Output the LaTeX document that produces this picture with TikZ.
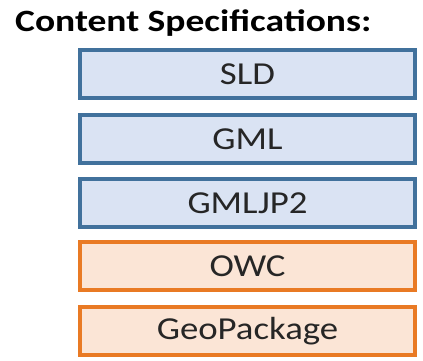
\documentclass[tikz,border=0pt]{standalone}
\usepackage{fontspec}
\setmainfont{Carlito}[FakeStretch=1.15]
\newfontfamily\titlefont{Carlito}[FakeStretch=1.21]
\usepackage{xcolor}
\definecolor{specblue}{HTML}{DAE3F3}
\definecolor{specblueline}{HTML}{41719C}
\definecolor{specorange}{HTML}{FBE5D6}
\definecolor{specorangeline}{HTML}{E97A24}
\tikzset{
  specbox/.style={draw, line width=3.5pt, minimum width=335pt, minimum height=48pt,
    inner sep=0pt, text=black!85, font=\fontsize{32}{38}\selectfont},
  bluebox/.style={specbox, draw=specblueline, fill=specblue},
  orangebox/.style={specbox, draw=specorangeline, fill=specorange}
}
\begin{document}
\begin{tikzpicture}[x=1pt,y=-1pt]
        % Fix the page size
        \useasboundingbox (0,0) rectangle (423,361);

        % Title
        \node[anchor=base west, inner sep=0pt, font=\titlefont\bfseries\fontsize{31}{37}\selectfont] (title) at (15,32) {Content Specifications:};

        % Blue specification boxes
        \node[bluebox] (sld) at (247.5,74) {SLD};
        \node[bluebox] (gml) at (247.5,139) {GML};
        \node[bluebox] (gmljp2) at (247.5,203) {GMLJP2};

        % Orange specification boxes
        \node[orangebox] (owc) at (247.5,266) {OWC};
        \node[orangebox] (geopackage) at (247.5,331) {GeoPackage};
    \end{tikzpicture}
\end{document}
